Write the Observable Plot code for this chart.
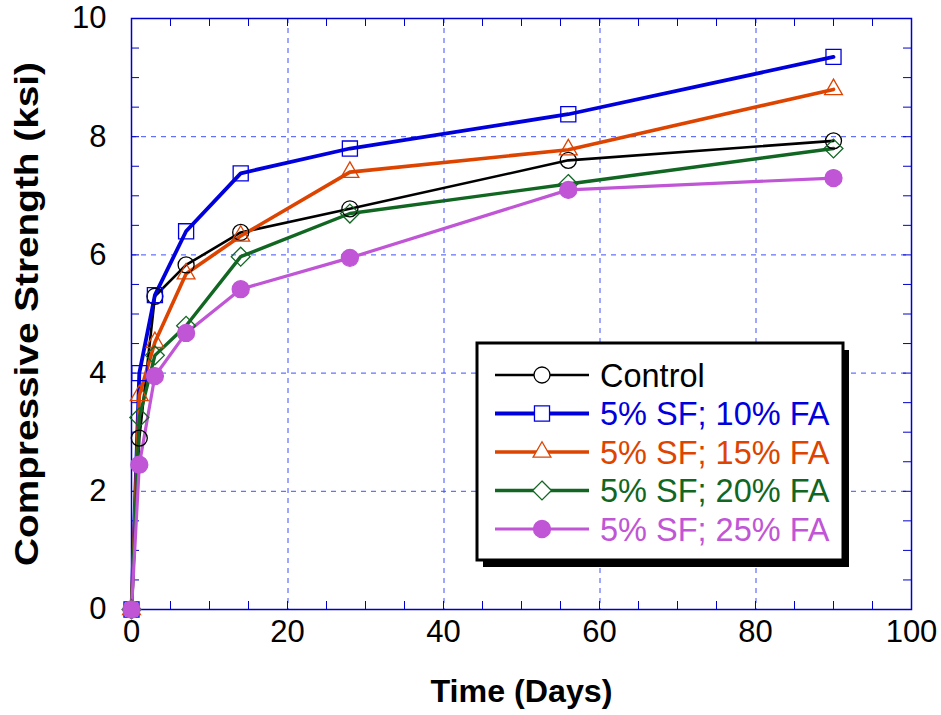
<!DOCTYPE html>
<html>
<head>
<meta charset="utf-8">
<script src="https://cdn.jsdelivr.net/npm/d3@7"></script>
<script src="https://cdn.jsdelivr.net/npm/@observablehq/plot@0.6"></script>
<style>
  html, body { margin: 0; padding: 0; background: #fff; }
  svg { font-family: "Liberation Sans", Arial, sans-serif; }
</style>
</head>
<body>
<div id="chart"></div>
<script>
// ---- data ----
const days = [0, 1, 3, 7, 14, 28, 56, 90];
const seriesNames = ["Control", "5% SF; 10% FA", "5% SF; 15% FA", "5% SF; 20% FA", "5% SF; 25% FA"];
const control = [0, 2.9, 5.3, 5.83, 6.38, 6.78, 7.6, 7.93];
const fa10 = [0, 4.0, 5.32, 6.4, 7.38, 7.8, 8.38, 9.35];
const fa15 = [0, 3.62, 4.52, 5.68, 6.32, 7.4, 7.78, 8.8];
const fa20 = [0, 3.25, 4.3, 4.8, 5.97, 6.7, 7.2, 7.8];
const fa25 = [0, 2.45, 3.95, 4.68, 5.42, 5.95, 7.1, 7.3];
const xTicks = [0, 20, 40, 60, 80, 100];
const yTicks = [0, 2, 4, 6, 8, 10];
const xMinor = d3.range(0, 101, 5);
const yMinor = d3.range(0, 10.01, 0.5);

const colors = ["#000000", "#0000dd", "#dd4400", "#116622", "#c055d6"];
const symbols = ["circle", "square", "triangle2", "diamond2", "circle"];
const fills = ["none", "none", "none", "none", "#c055d6"];
const widths = [2.6, 3.8, 3.6, 3.4, 3.2];
const radii = [8, 8.5, 8.5, 8.5, 8.5];

const allValues = [control, fa10, fa15, fa20, fa25];
const rows = [];
allValues.forEach((vals, s) => vals.forEach((v, i) => rows.push({series: seriesNames[s], s, day: days[i], value: v})));

const W = 941, H = 715, mL = 131, mR = 30, mT = 18, mB = 106;
const pw = W - mL - mR, ph = H - mT - mB;
const tick = 8;
const gridColor = "#3f4fff";
const frameColor = "#0000cc";

const marks = [
  Plot.ruleX(xTicks.filter(d => d > 0 && d < 100), {x: d => d, dx: 0.5, stroke: gridColor, strokeDasharray: "5,5", strokeWidth: 1}),
  Plot.ruleY(yTicks.filter(d => d > 0 && d < 10), {y: d => d, stroke: gridColor, strokeDasharray: "5,5", strokeWidth: 1}),
  // inward minor ticks
  Plot.ruleX(xMinor, {x: d => d, insetTop: ph - tick, stroke: frameColor, strokeWidth: 1}),
  Plot.ruleX(xMinor, {x: d => d, insetBottom: ph - tick, stroke: frameColor, strokeWidth: 1}),
  Plot.ruleY(yMinor, {y: d => d, insetRight: pw - tick, stroke: frameColor, strokeWidth: 1}),
  Plot.ruleY(yMinor, {y: d => d, insetLeft: pw - tick, stroke: frameColor, strokeWidth: 1}),
  Plot.frame({stroke: frameColor, strokeWidth: 1.5}),
  Plot.axisX({ticks: xTicks, tickSize: 0, tickPadding: 10, fontSize: 31, label: null, fill: "#000"}),
  Plot.axisY({ticks: yTicks, tickSize: 0, tickPadding: 25, fontSize: 31, label: null, fill: "#000"}),
  Plot.text(["Time (Days)"], {frameAnchor: "bottom", dy: 82, lineAnchor: "middle", textAnchor: "middle", fontSize: 32, fontWeight: "bold", fill: "#000"}),
  Plot.text(["Compressive Strength (ksi)"], {frameAnchor: "left", dx: -104, rotate: -90, lineAnchor: "middle", textAnchor: "middle", fontSize: 34, fontWeight: "bold", fill: "#000"})
];

allValues.forEach((vals, s) => {
  const data = rows.filter(r => r.s === s);
  marks.push(Plot.line(data, {x: "day", y: "value", stroke: colors[s], strokeWidth: widths[s]}));
});
allValues.forEach((vals, s) => {
  const data = rows.filter(r => r.s === s);
  marks.push(Plot.dot(data, {x: "day", y: "value", symbol: () => symbols[s], r: radii[s], stroke: colors[s], fill: fills[s], strokeWidth: 1.3}));
});

const chart = Plot.plot({
  width: W, height: H,
  marginLeft: mL, marginRight: mR, marginTop: mT, marginBottom: mB,
  x: {domain: [0, 100]},
  y: {domain: [0, 10]},
  symbol: {type: "identity"},
  style: {fontFamily: "'Liberation Sans', Arial, sans-serif", background: "#fff"},
  marks
});
document.getElementById("chart").appendChild(chart);

// stretch axis titles to the reference's lengths
d3.select(chart).selectAll("text").each(function() {
  const t = this.textContent;
  if (t === "Compressive Strength (ksi)") d3.select(this).attr("textLength", 504).attr("lengthAdjust", "spacingAndGlyphs");
  if (t === "Time (Days)") d3.select(this).attr("textLength", 182).attr("lengthAdjust", "spacingAndGlyphs");
});

// ---- legend (drawn into the svg) ----
const svg = d3.select(chart);
const lg = svg.append("g").attr("text-anchor", "start");
const bx = 477, by = 343, bw = 366, bh = 217;
lg.append("rect").attr("x", bx + 6).attr("y", by + 7).attr("width", bw).attr("height", bh).attr("fill", "#000");
lg.append("rect").attr("x", bx).attr("y", by).attr("width", bw).attr("height", bh).attr("fill", "#fff").attr("stroke", "#000").attr("stroke-width", 3);
const symMap = {circle: d3.symbolCircle, square: d3.symbolSquare, triangle2: d3.symbolTriangle2, diamond2: d3.symbolDiamond2};
seriesNames.forEach((name, i) => {
  const y = 375 + i * 38.5;
  lg.append("line").attr("x1", 495).attr("x2", 589).attr("y1", y).attr("y2", y).attr("stroke", colors[i]).attr("stroke-width", widths[i]);
  lg.append("path").attr("transform", `translate(542,${y})`)
    .attr("d", d3.symbol(symMap[symbols[i]], Math.PI * radii[i] * radii[i])())
    .attr("fill", fills[i] === "none" ? "#fff" : fills[i]).attr("stroke", colors[i]).attr("stroke-width", 1.3);
  lg.append("text").attr("x", 600).attr("y", y).attr("dy", "0.36em").attr("font-size", 32.5)
    .attr("text-anchor", "start").attr("fill", colors[i]).text(name);
});
</script>
</body>
</html>
